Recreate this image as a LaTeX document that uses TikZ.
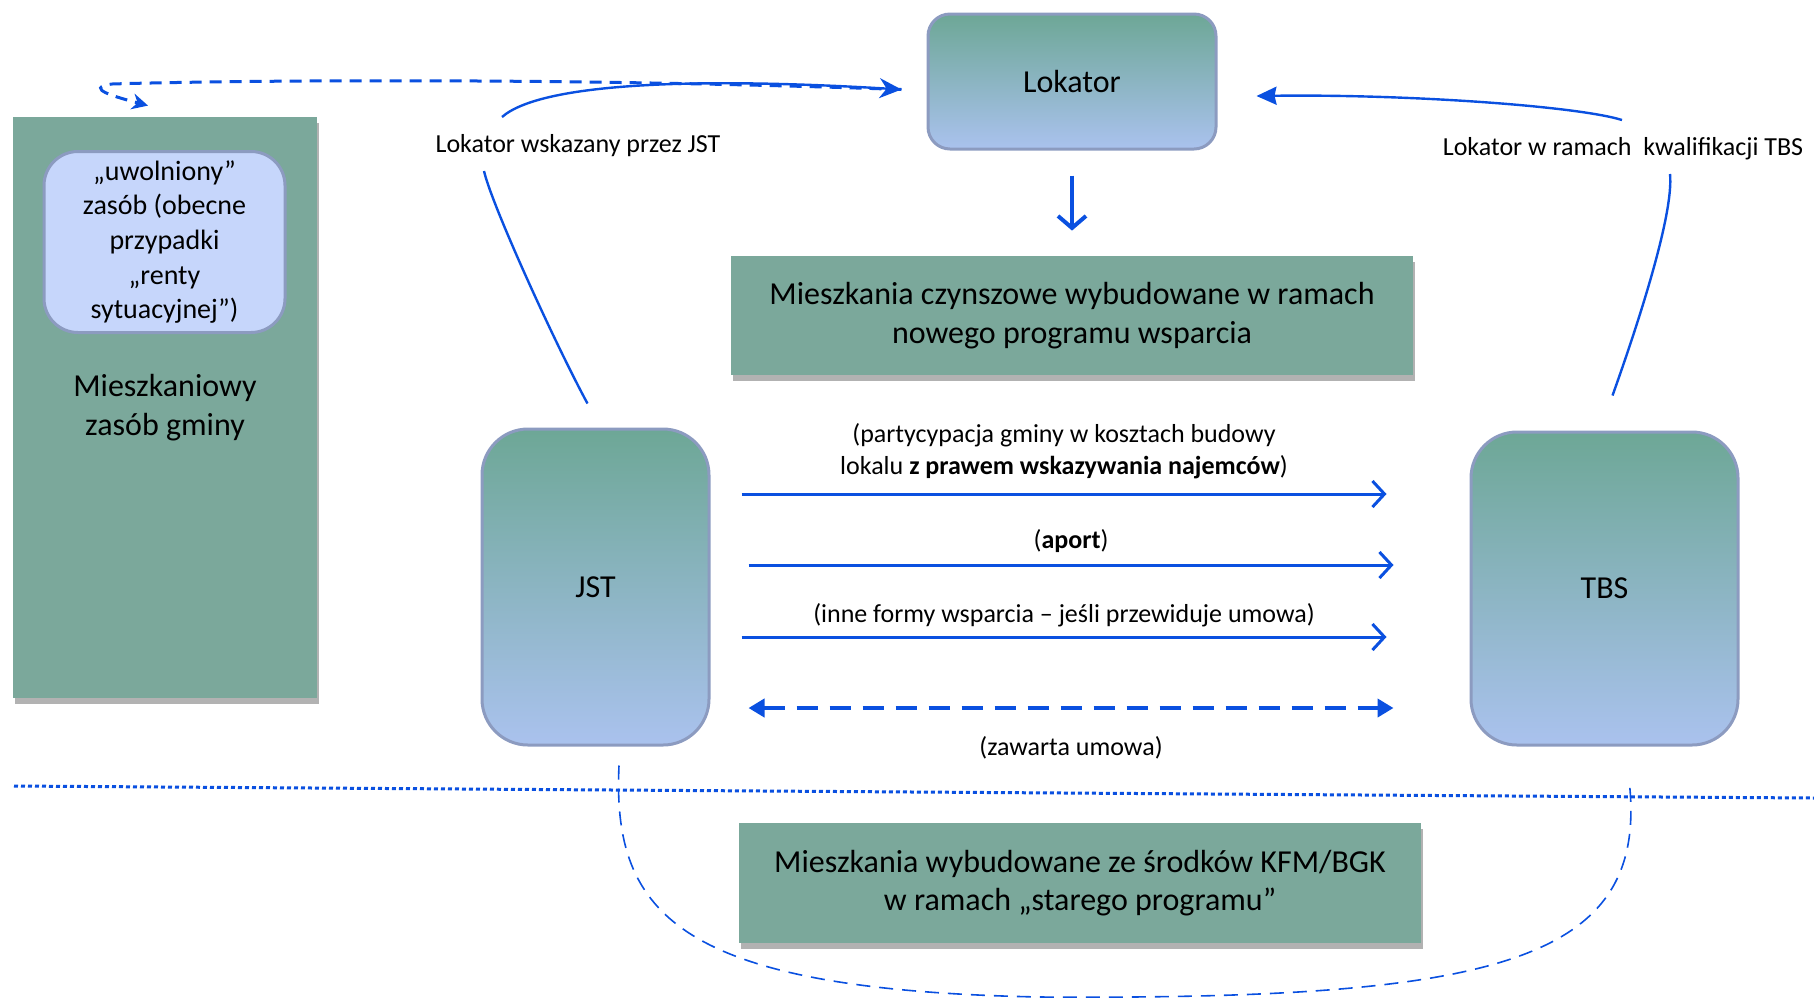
\documentclass[tikz,border=0pt]{standalone}
\usepackage{fontspec}
\setmainfont{Carlito}
\usepackage{xcolor}
\usepackage{tikz}
\usetikzlibrary{arrows.meta,positioning,shadows,calc}

\definecolor{linkblue}{HTML}{0A50E0}
\definecolor{boxgreen}{HTML}{7BA89B}
\definecolor{gradtop}{HTML}{6DA796}
\definecolor{gradbot}{HTML}{AAC2EE}
\definecolor{boxedge}{HTML}{8C9BC0}
\definecolor{paleblue}{HTML}{C6D6FB}

\newcommand{\bigtxt}{\fontsize{16}{19.2}\selectfont}
\newcommand{\midtxt}{\fontsize{14}{17.35}\selectfont}
\newcommand{\smalltxt}{\fontsize{13}{15.6}\selectfont}

\tikzset{
  flatbox/.style={fill=boxgreen, draw=none, align=center, inner sep=0pt, font=\bigtxt,
    drop shadow={shadow xshift=1pt, shadow yshift=-3pt, opacity=0.5, fill=black!60}},
  gradbox/.style={top color=gradtop, bottom color=gradbot, draw=boxedge, line width=1.5pt,
    align=center, inner sep=0pt, font=\bigtxt},
  lbl/.style={font=\smalltxt, text=black, align=center, inner sep=0pt},
  flow/.style={linkblue, line width=1.5pt, -{Straight Barb[length=6pt,width=13pt,line width=1.5pt]}},
  link/.style={linkblue, line width=1.2pt},
}

\begin{document}
\begin{tikzpicture}[x=0.5pt,y=-0.5pt]
  \useasboundingbox (0,0) rectangle (1814,998);
  % Boxes
  \node[flatbox, minimum width=152pt, minimum height=290.5pt] (zasob) at (165,407.5) {Mieszkaniowy\\zasób gminy};
  \node[draw=boxedge, fill=paleblue, line width=1.5pt, rounded corners=17pt, minimum width=120.5pt,
    minimum height=90.5pt, align=center, inner sep=0pt, font=\midtxt] (uwolniony) at (164.5,242)
    {„uwolniony”\\zasób (obecne\\przypadki\\„renty\\sytuacyjnej”)};
  \node[gradbox, rounded corners=11pt, minimum width=144pt, minimum height=67.5pt] (lokator) at (1072,81.5) {Lokator};
  \node[flatbox, minimum width=341pt, minimum height=59.5pt] (czynsz) at (1072,315.5)
    {Mieszkania czynszowe wybudowane w ramach\\nowego programu wsparcia};
  \node[gradbox, rounded corners=23pt, minimum width=113.5pt, minimum height=158pt] (jst) at (595.5,587) {JST};
  \node[gradbox, rounded corners=23pt, minimum width=133.5pt, minimum height=156.5pt] (tbs) at (1604.5,588.5) {TBS};
  \node[flatbox, minimum width=341pt, minimum height=60pt] (stary) at (1080,883)
    {Mieszkania wybudowane ze środków KFM/BGK\\w ramach „starego programu”};
  % Curve labels
  \node[lbl] (lokJST) at (578,146) {Lokator wskazany przez JST};
  \node[lbl] (lokTBS) at (1623,149) {Lokator w ramach~~kwalifikacji TBS};
  % Lokator -> new flats
  \draw[linkblue, line width=2.2pt, shorten <=12.5pt, shorten >=12.5pt,
    -{Straight Barb[length=6pt,width=14pt,line width=2pt]}] (lokator.south) -- (czynsz.north);
  % JST -> TBS
  \draw[flow] ($(jst.east |- 0,494)+(31,0)$) -- ($(tbs.west |- 0,494)+(-83,0)$)
    node[lbl, midway, above=7pt] {(partycypacja gminy w kosztach budowy\\lokalu \textbf{z prawem wskazywania najemców})};
  \draw[flow] ($(jst.east |- 0,565)+(38,0)$) -- ($(tbs.west |- 0,565)+(-76,0)$)
    node[lbl, midway, above=5.5pt] {(\textbf{aport})};
  \draw[flow] ($(jst.east |- 0,637)+(31,0)$) -- ($(tbs.west |- 0,637)+(-83,0)$)
    node[lbl, midway, above=4.5pt] {(inne formy wsparcia – jeśli przewiduje umowa)};
  \draw[linkblue, line width=2pt, dash pattern=on 10.5pt off 6pt,
    {Triangle[length=8pt,width=9pt]}-{Triangle[length=8pt,width=9pt]}]
    ($(jst.east |- 0,708)+(38,0)$) -- ($(tbs.west |- 0,708)+(-76,0)$)
    node[lbl, midway, below=13pt] {(zawarta umowa)};
  % Tenant curves
  \draw[link] ([shift={(-8,-24)}]jst.north) .. controls +(-30,-55) and +(8,35) .. ([shift={(-94,25)}]lokJST.center);
  \draw[link, -{Stealth[length=11pt,width=10pt]}] ([shift={(-76,-29)}]lokJST.center)
    .. controls +(40,-35) and +(-200,-12) .. ([shift={(-25,8)}]lokator.west);
  \draw[link] ([shift={(8,-35)}]tbs.north) .. controls +(25,-70) and +(4,40) .. ([shift={(47,25)}]lokTBS.center);
  \draw[link, -{Stealth[length=10pt,width=9pt,inset=1pt]}] ([shift={(-1,-29)}]lokTBS.center)
    .. controls +(-45,-14) and +(150,-2) .. ([shift={(39,14.5)}]lokator.east);
  % Released stock
  \draw[linkblue, line width=1.5pt, dash pattern=on 6pt off 4pt, -{Stealth[length=8pt,width=8pt]}]
    ([shift={(-25,8)}]lokator.west) .. controls +(-400,-14) and +(60,-2) .. (112,84)
    .. controls +(-30,4) and +(-30,-8) .. ([shift={(-17,-11)}]zasob.north);
  % Divider
  \draw[linkblue, line width=1.5pt, dash pattern=on 2pt off 1.5pt] (14,786) -- (1814,798);
  % Old programme
  \draw[linkblue, line width=0.8pt, dash pattern=on 7pt off 4.5pt] ([shift={(23.5,19)}]jst.south)
    .. controls +(-7,150) and +(-360,-7) .. (1040,997)
    .. controls +(460,3) and +(21,182) .. ([shift={(24.5,33)}]tbs.south);
\end{tikzpicture}
\end{document}
